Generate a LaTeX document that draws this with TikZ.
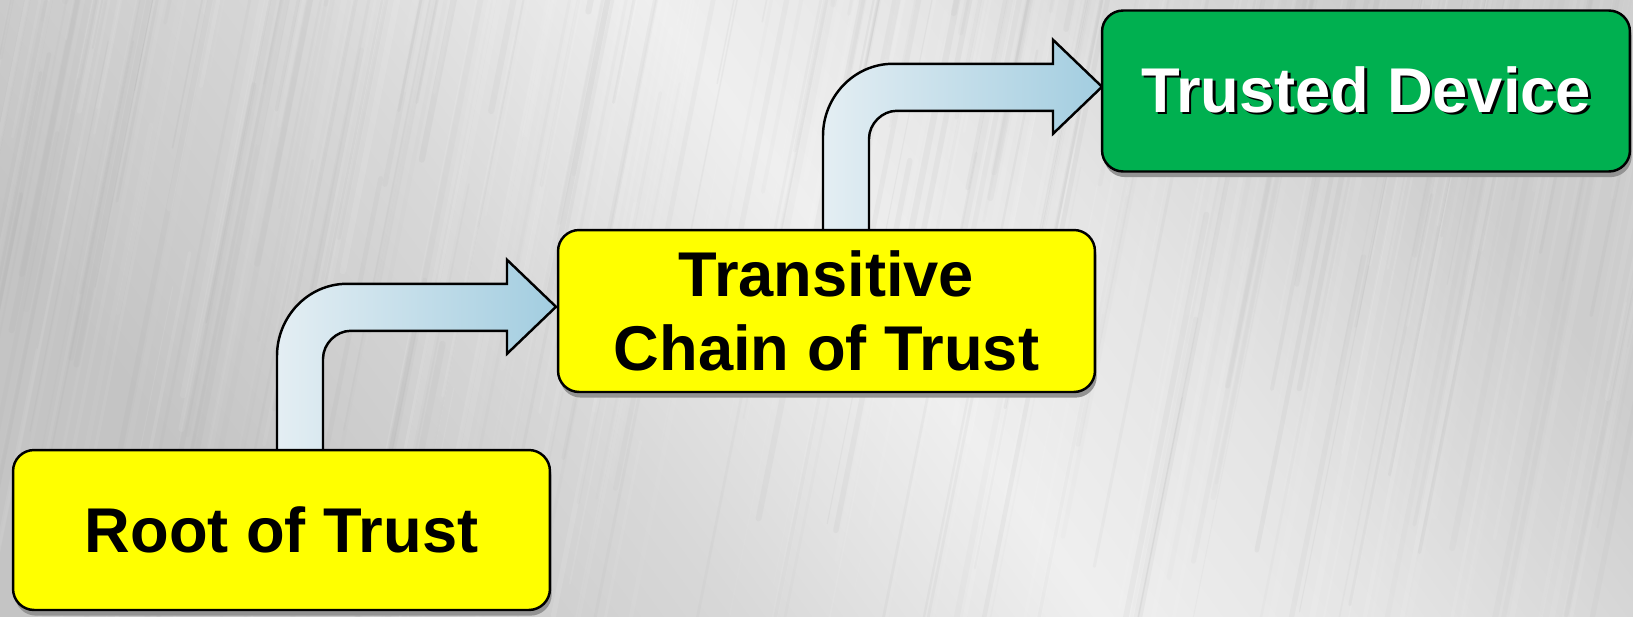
\documentclass[tikz,border=0pt]{standalone}
\usepackage{fontspec}
\setmainfont{Liberation Sans}
\usetikzlibrary{calc,shadows}

\pgfdeclarelayer{backdrop}
\pgfdeclarelayer{links}
\pgfsetlayers{backdrop,links,main}

\definecolor{boxyellow}{HTML}{FFFF00}
\definecolor{boxgreen}{HTML}{00B050}
\definecolor{arrowlight}{HTML}{E4EEF3}
\definecolor{arrowblue}{HTML}{A2CDE0}
\definecolor{metalA}{HTML}{C4C4C4}
\definecolor{metalB}{HTML}{D8D8D8}
\definecolor{metalC}{HTML}{EFEFEF}
\definecolor{metalD}{HTML}{E4E4E4}
\definecolor{metalE}{HTML}{CDCDCD}

\pgfdeclarehorizontalshading{brushedmetal}{100bp}{%
  color(0bp)=(metalA); color(25bp)=(metalA); color(40bp)=(metalB);
  color(52bp)=(metalC); color(62bp)=(metalD); color(75bp)=(metalE);
  color(100bp)=(metalE)}

% white lettering with a small black drop shadow
\newcommand{\embossed}[1]{\rlap{\kern1.4pt\raisebox{-1.4pt}{\textcolor{black}{#1}}}\textcolor{white}{#1}}

\begin{document}
\begin{tikzpicture}[x=0.02cm, y=-0.02cm,
  stagebox/.style={draw=black, line width=1.4pt, rounded corners=12pt,
    minimum width=10.74cm, minimum height=3.2cm, align=center,
    font=\bfseries\fontsize{36}{42.5}\selectfont,
    drop shadow={shadow xshift=1pt, shadow yshift=-3.2pt, fill=gray!85, opacity=1}},
  blockarrow/.style={draw=black, line width=1.4pt, line join=miter,
    left color=arrowlight, right color=arrowblue},
  streak/.style={line cap=round}]

\useasboundingbox (0,0) rectangle (1633,616);

% stages
\node[stagebox, fill=boxyellow] (root) at (281.5,530) {Root of Trust};
\node[stagebox, fill=boxyellow, minimum height=3.24cm] (chain) at (826.5,311) {Transitive\\Chain of Trust};
\node[stagebox, fill=boxgreen, minimum width=10.56cm, minimum height=3.22cm] (device) at (1366,91) {\embossed{Trusted Device}};

% brushed metal backdrop
\begin{pgfonlayer}{backdrop}
  \shade[shading=brushedmetal, shading angle=36] (0,0) rectangle (1633,616);
  \begin{scope}
    \clip (0,0) rectangle (1633,616);
    \pgfmathsetseed{42}
    \foreach \i in {1,...,450}{
      \pgfmathsetmacro{\sx}{rnd*1900-200}
      \pgfmathsetmacro{\sy}{rnd*800}
      \pgfmathsetmacro{\sl}{350+rnd*600}
      \pgfmathsetmacro{\sw}{0.6+rnd*3}
      \pgfmathsetmacro{\so}{0.03+rnd*0.07}
      \pgfmathtruncatemacro{\sc}{ifthenelse(rnd>0.5,100,20)}
      \draw[streak, line width=\sw pt, draw=white!\sc!gray, opacity=\so]
        (\sx,\sy) -- ++(0.2*\sl,-\sl);
    }
  \end{scope}
\end{pgfonlayer}

% bent block arrows between the stages
\begin{pgfonlayer}{links}
  \foreach \src/\dx in {root/18.5, chain/19.5}{
    \path[blockarrow, shift={($(\src.north)+(\dx,0)$)}]
      (-23,4) -- (-23,-93)
      .. controls (-23,-132) and (8,-165) .. (47,-165)
      -- (207,-165) -- (207,-189) -- (256,-142) -- (207,-95) -- (207,-118)
      -- (51,-118)
      .. controls (36,-118) and (23,-105) .. (23,-90)
      -- (23,4) -- cycle;
  }
\end{pgfonlayer}
\end{tikzpicture}
\end{document}
